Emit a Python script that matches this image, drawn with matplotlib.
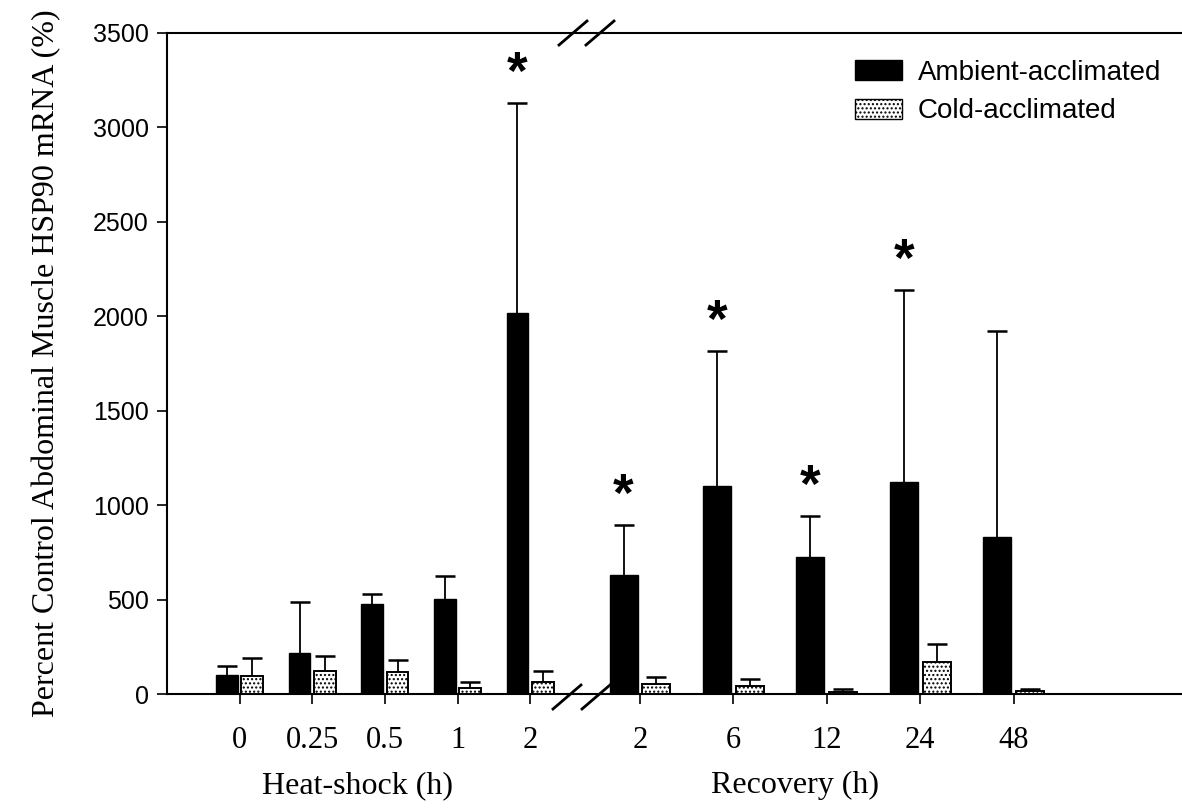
import matplotlib
matplotlib.use("Agg")
import numpy as np
import matplotlib.pyplot as plt
from matplotlib.lines import Line2D

# values (percent of control)
heat_labels = ["0", "0.25", "0.5", "1", "2"]
heat_amb = [100, 215, 475, 505, 2020]
heat_amb_err = [48, 270, 55, 120, 1110]
heat_cold = [95, 120, 115, 32, 62]
heat_cold_err = [95, 80, 65, 32, 60]
heat_sig = [False, False, False, False, True]

rec_labels = ["2", "6", "12", "24", "48"]
rec_amb = [630, 1100, 725, 1125, 830]
rec_amb_err = [265, 715, 215, 1015, 1090]
rec_cold = [52, 42, 12, 170, 15]
rec_cold_err = [38, 37, 14, 95, 11]
rec_sig = [True, True, True, True, False]

serif = "Liberation Serif"
sans = "Liberation Sans"
plt.rcParams["hatch.linewidth"] = 1.0

W, H = 1182, 810
fig = plt.figure(figsize=(W / 100, H / 100), dpi=100)
bot = 1 - 694 / H
hgt = 661 / H
brk = 581
ax1 = fig.add_axes([167 / W, bot, (brk - 167) / W, hgt])
ax2 = fig.add_axes([brk / W, bot, (W - brk) / W, hgt])

bw = 0.30
off = 0.175


def up_err(ax, xs, vals, errs):
    # upper-only error bar: stem plus a single cap
    tops = np.array(vals) + np.array(errs)
    ax.errorbar(xs, vals, yerr=[np.zeros(len(vals)), errs], fmt="none",
                ecolor="black", elinewidth=1.3, capsize=0, zorder=2)
    ax.plot(xs, tops, linestyle="none", marker="_", markersize=15,
            markeredgewidth=1.8, color="black", zorder=2)


def draw(ax, labels, amb, amb_err, cold, cold_err, sig):
    x = np.arange(len(labels))
    n = len(labels)
    ax.bar(x - off, amb, bw, color="black", edgecolor="black", zorder=3)
    ax.bar(x + off, cold, bw, color="white", edgecolor="black", linewidth=1.4,
           hatch="....", zorder=3)
    up_err(ax, x - off, amb, amb_err)
    up_err(ax, x + off, cold, cold_err)
    for i in range(n):
        if sig[i]:
            ax.text(x[i] - off, amb[i] + amb_err[i] + 150, "*", ha="center",
                    va="center", fontsize=38, fontweight="bold", family=sans)
    ax.set_xticks(x)
    ax.set_xticklabels(labels, family=serif, fontsize=22)
    ax.set_ylim(0, 3500)
    ax.tick_params(axis="x", direction="out", length=7, width=1.2, pad=16)
    ax.spines["right"].set_visible(False)
    for s in ["top", "bottom", "left"]:
        ax.spines[s].set_linewidth(1.5)


draw(ax1, heat_labels, heat_amb, heat_amb_err, heat_cold, heat_cold_err, heat_sig)
draw(ax2, rec_labels, rec_amb, rec_amb_err, rec_cold, rec_cold_err, rec_sig)

ax1.set_xlim(-1.0, 4.70)
ax2.set_xlim(-0.63, 5.80)

ax1.set_yticks(np.arange(0, 3501, 500))
ax1.set_yticklabels([str(v) for v in range(0, 3501, 500)], family=sans, fontsize=18)
ax1.tick_params(axis="y", direction="out", length=7, width=1.2, pad=6)
ax1.set_ylabel("Percent Control Abdominal Muscle HSP90 mRNA (%)", family=serif,
               fontsize=23)
ax1.yaxis.set_label_coords(-0.255, 0.5)
ax1.set_xlabel("Heat-shock (h)", family=serif, fontsize=23)
ax2.spines["left"].set_visible(False)
ax2.tick_params(axis="y", left=False, labelleft=False)
ax2.set_xlabel("Recovery (h)", family=serif, fontsize=23)
ax1.xaxis.set_label_coords((358 - 167) / (brk - 167), -0.117)
ax2.xaxis.set_label_coords((795 - brk) / (W - brk), -0.117)

# axis break marks
for cx, cy in [(567, 697), (596, 697), (573, 33), (600, 33)]:
    fig.add_artist(Line2D([(cx - 14) / W, (cx + 14) / W],
                          [1 - (cy + 12) / H, 1 - (cy - 12) / H],
                          color="black", linewidth=2.0))

handles = [
    plt.Rectangle((0, 0), 1, 1, facecolor="black", edgecolor="black"),
    plt.Rectangle((0, 0), 1, 1, facecolor="white", edgecolor="black", hatch="...."),
]
fig.legend(handles, ["Ambient-acclimated", "Cold-acclimated"], loc="upper left",
           bbox_to_anchor=(855 / W, 1 - 60 / H), frameon=False,
           prop=dict(family=sans, size=20), handlelength=1.7, handleheight=0.75,
           handletextpad=0.55, labelspacing=0.45, borderaxespad=0, borderpad=0)

fig.savefig("out.png", dpi=100)
